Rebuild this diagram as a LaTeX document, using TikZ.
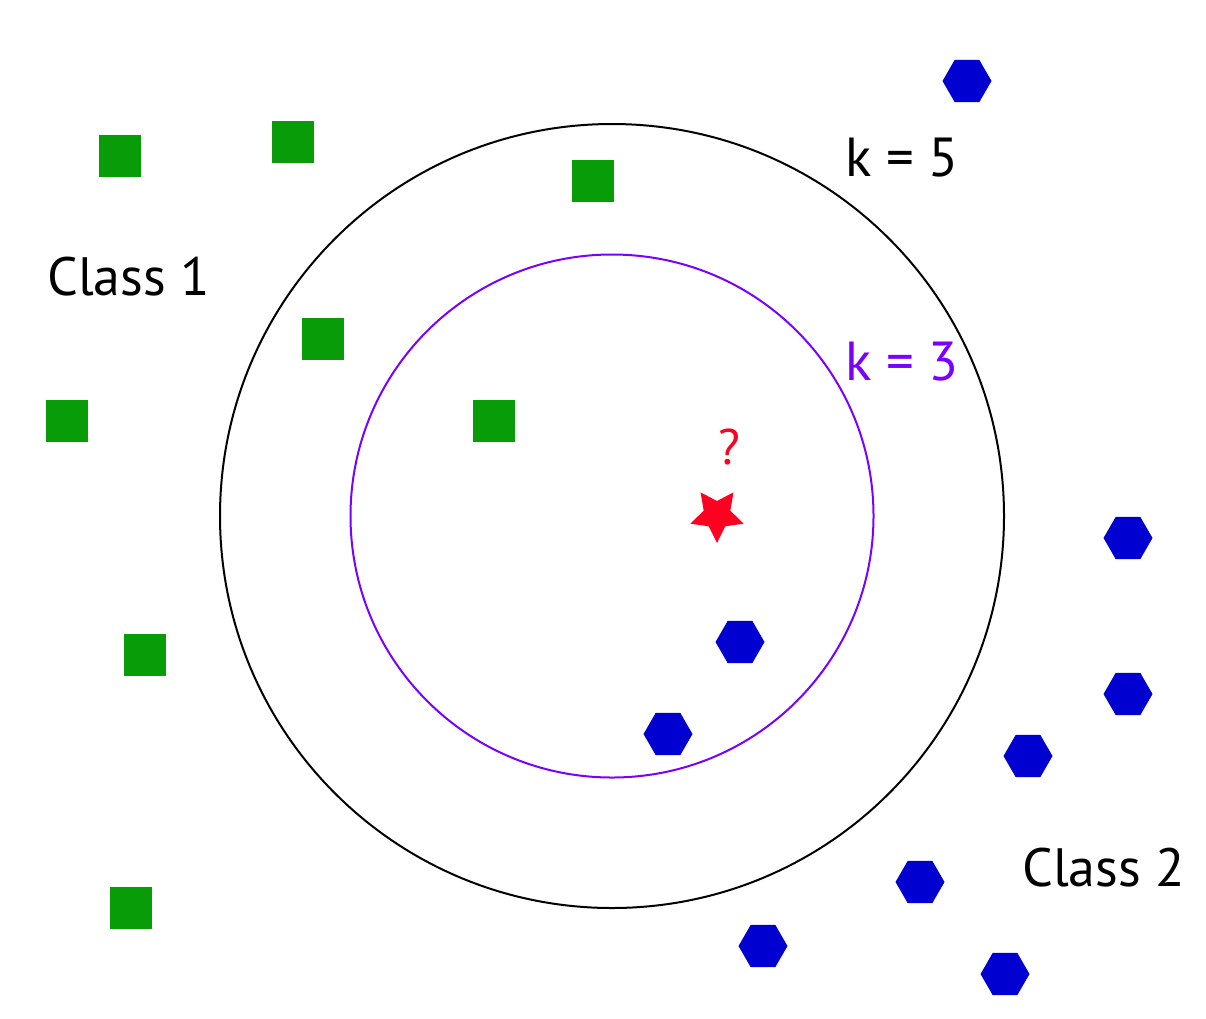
\documentclass[tikz,border=0pt]{standalone}
\usepackage{fontspec}
\setmainfont{PT Sans}
\usetikzlibrary{shapes.geometric}
\definecolor{sqgreen}{RGB}{8,156,8}
\definecolor{hexblue}{RGB}{0,0,208}
\definecolor{kpurple}{RGB}{122,0,255}
\definecolor{qred}{RGB}{255,0,32}
\begin{document}
\begin{tikzpicture}[x=1pt,y=-1pt,
  sq/.style={rectangle,fill=sqgreen,draw=none,minimum size=42.5pt,inner sep=0pt},
  hexa/.style={regular polygon,regular polygon sides=6,fill=hexblue,draw=none,minimum size=49pt,inner sep=0pt},
  lbl/.style={font=\fontsize{54}{60}\selectfont,inner sep=0pt},
  klbl/.style={font=\fontsize{55}{60}\selectfont,inner sep=0pt}]
\useasboundingbox (0,0) rectangle (1206,1018);
% circles
\node[circle,draw=black,line width=2pt,minimum size=784pt,inner sep=0pt] (k5c) at (612,516) {};
\node[circle,draw=kpurple,line width=2pt,minimum size=523pt,inner sep=0pt] (k3c) at (612,516) {};
% class 1 squares
\node[sq] (s1) at (120,156) {};
\node[sq] (s2) at (293,142) {};
\node[sq] (s3) at (593,181) {};
\node[sq] (s4) at (323,339) {};
\node[sq] (s5) at (67,421) {};
\node[sq] (s6) at (494,421) {};
\node[sq] (s7) at (145,655) {};
\node[sq] (s8) at (131,908) {};
% class 2 hexagons
\node[hexa] (h1) at (967,81) {};
\node[hexa] (h2) at (1128,538) {};
\node[hexa] (h3) at (740,642) {};
\node[hexa] (h4) at (1128,694) {};
\node[hexa] (h5) at (668,734) {};
\node[hexa] (h6) at (1028,756) {};
\node[hexa] (h7) at (920,882) {};
\node[hexa] (h8) at (763,946) {};
\node[hexa] (h9) at (1005,974) {};
% query point
\node[star,star points=5,star point ratio=2.0,shape border rotate=180,fill=qred,draw=none,minimum size=56pt,inner sep=0pt] (q) at (717,515) {};
\node[text=qred,font=\fontsize{50}{54}\selectfont,inner sep=0pt,anchor=base] (qm) at (729,464) {?};
% labels
\node[lbl,anchor=base west] (c1) at (47,295) {Class 1};
\node[lbl,anchor=base west] (c2) at (1022,886) {Class 2};
\node[klbl,anchor=base west] (k5) at (845,176) {k = 5};
\node[klbl,anchor=base west,text=kpurple] (k3) at (845,380) {k = 3};
\end{tikzpicture}
\end{document}
